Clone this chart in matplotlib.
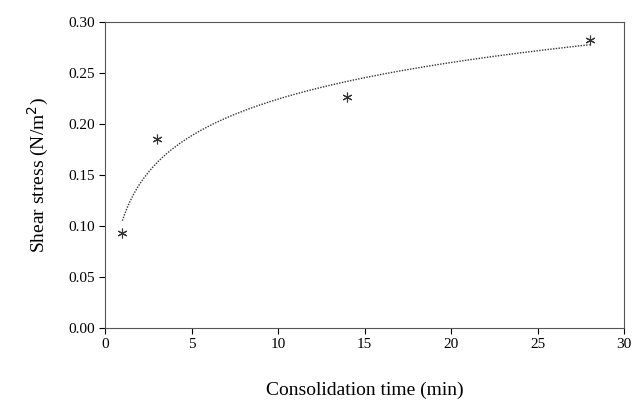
import numpy as np
import matplotlib.pyplot as plt

plt.rcParams["font.family"] = ["Liberation Serif", "DejaVu Serif"]

time_min = [1, 3, 14, 28]
shear = [0.093, 0.185, 0.227, 0.282]

# logarithmic trendline fitted to the points
b, a = np.polyfit(np.log(time_min), shear, 1)
xs = np.linspace(1, 28, 200)
ys = a + b * np.log(xs)

fig = plt.figure(figsize=(6.33, 4.01), dpi=100)
ax = fig.add_axes([0.166, 0.182, 0.820, 0.763])

ax.plot(xs, ys, color="#333333", linestyle=(0, (1, 1)), linewidth=1.0)
ax.plot(time_min, shear, linestyle="none", marker=(6, 2, 0), markersize=7,
        color="#333333", markeredgewidth=0.8)

for s in ax.spines.values():
    s.set_color("#555555")

ax.set_xlim(0, 30)
ax.set_ylim(0, 0.30)
ax.set_xticks(range(0, 31, 5))
ax.set_yticks(np.arange(0, 0.31, 0.05))
ax.set_yticklabels([f"{v:.2f}" for v in np.arange(0, 0.31, 0.05)])
ax.tick_params(labelsize=11, direction="out", length=4)

ax.set_xlabel("Consolidation time (min)", fontsize=14, labelpad=22)
ax.set_ylabel("Shear stress (N/m$^2$)", fontsize=14, labelpad=12)

fig.savefig("out.png", dpi=100)
